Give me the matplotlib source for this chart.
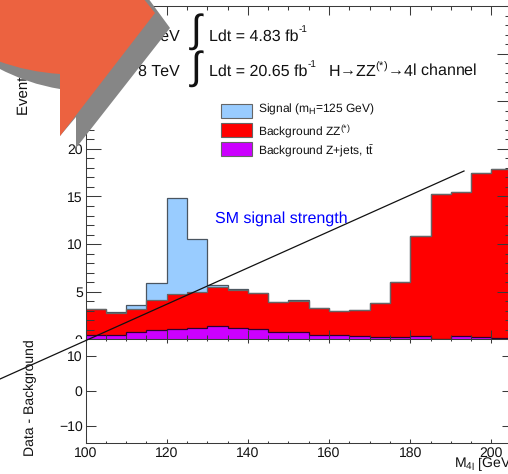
import numpy as np
import matplotlib
matplotlib.use("Agg")
import matplotlib.pyplot as plt
from matplotlib.patches import PathPatch, Rectangle
from matplotlib.path import Path
from matplotlib.lines import Line2D
from matplotlib.transforms import Affine2D, Bbox

plt.rcParams['font.family'] = ['Liberation Sans', 'DejaVu Sans']
plt.rcParams['mathtext.default'] = 'regular'
plt.rcParams['text.hinting'] = 'no_hinting'
plt.rcParams['text.hinting_factor'] = 1

bin_edges = list(range(100, 210, 5))
signal_total = [3.2, 2.9, 3.65, 5.9, 14.85, 10.5, 5.65, 5.3, 4.85, 3.9, 4.1, 3.26, 3.0, 3.1, 3.8, 6.0, 10.8, 15.25, 15.5, 17.5, 17.9]
zz_total = [3.15, 2.75, 3.15, 4.1, 4.8, 5.0, 5.5, 5.2, 4.85, 3.9, 4.07, 3.26, 3.0, 3.1, 3.8, 6.0, 10.8, 15.25, 15.5, 17.5, 17.9]
zjets = [0.42, 0.42, 0.74, 0.95, 1.05, 1.2, 1.37, 1.2, 1.05, 0.74, 0.8, 0.42, 0.4, 0.35, 0.2, 0.2, 0.3, 0.0, 0.3, 0.2, 0.1]
x_ticks = [100, 120, 140, 160, 180, 200]
upper_y_ticks = [0, 5, 10, 15, 20, 25, 30]
lower_y_ticks = [-10, 0, 10]
legend_labels = ["Signal (m$_{H}$=125 GeV)", "Background ZZ$^{(*)}$", r"Background Z+jets, t$\bar{t}$"]
legend_colors = ["#99ccff", "#ff0000", "#cc00ff"]

W, H = 508, 474
fig = plt.figure(figsize=(W / 100, H / 100), dpi=100, facecolor='white')
px = Affine2D().scale(1 / W, -1 / H).translate(0, 1) + fig.transFigure

def axes_px(left, top, right, bottom):
    return fig.add_axes([left / W, 1 - bottom / H, (right - left) / W, (bottom - top) / H])

L, R = 85.5, 511.7
ax = axes_px(L, 6, R, 339.3)
axl = axes_px(L, 339.3, R, 443)
ax.set_zorder(1)
axl.set_zorder(2)

edge = "#3a3a3a"
for vals, col, ec in [(signal_total, legend_colors[0], "#4a5560"),
                      (zz_total, legend_colors[1], "#666666"),
                      (zjets, legend_colors[2], "#300030")]:
    ax.stairs(vals, bin_edges, fill=True, color=col, baseline=0, zorder=1)
    ax.stairs(vals, bin_edges, fill=False, color=ec, lw=0.9, baseline=None, zorder=1.1)

for a in (ax, axl):
    a.set_xlim(100, 205)
    a.set_xticks(x_ticks)
    a.set_xticks(bin_edges, minor=True)
    for s in a.spines.values():
        s.set_linewidth(0.75)
        s.set_color(edge)

ax.set_ylim(0, 35)
ax.set_yticks(upper_y_ticks)
ax.set_yticks(np.arange(0, 36), minor=True)
ax.set_xticklabels([])
ax.tick_params(axis='x', which='major', direction='in', top=True, length=6.5, width=0.75, color=edge)
ax.tick_params(axis='x', which='minor', direction='in', top=True, length=3, width=0.75, color=edge)
ax.tick_params(axis='y', which='major', direction='in', right=True, length=11, width=0.75, color=edge,
               labelsize=10, pad=2, labelcolor='#111111')
ax.tick_params(axis='y', which='minor', direction='in', right=True, length=5.4, width=0.75, color=edge)

axl.set_ylim(-15, 14.8)
axl.set_yticks(lower_y_ticks)
axl.tick_params(axis='x', which='major', direction='in', top=True, length=3, width=0.75, color=edge,
                labelsize=10, pad=2.6, labelcolor='#111111')
axl.tick_params(axis='x', which='minor', direction='in', top=True, length=1.6, width=0.75, color=edge)
axl.tick_params(axis='y', which='major', direction='in', right=True, length=7, width=0.75, color=edge,
                labelsize=10, pad=2, labelcolor='#111111')

# The "0" of the upper panel is cut by the lower panel
for lab, v in zip(ax.get_yticklabels(), upper_y_ticks):
    if v == 0:
        lab.set_clip_box(Bbox([[0, H - 339.3], [W, H]]))
        lab.set_clip_on(True)

def T(x, y, s, **kw):
    kw.setdefault('fontsize', 11.2)
    kw.setdefault('va', 'baseline')
    kw.setdefault('color', '#111111')
    return fig.text(x, y, s, transform=px, **kw)

T(25, 115, "Events / 5 GeV", rotation=90, ha='center', va='bottom', fontsize=10.6)
T(30, 397.5, "Data - Background", rotation=90, ha='center', va='center', fontsize=10)
T(454, 468, "M$_{4l}$ [GeV]", fontsize=10, clip_on=False)

T(180, 40.7, "√s = 7 TeV", ha='right')
T(180, 76, "√s = 8 TeV", ha='right')
T(197, 32, r"$\int$", ha='center', va='center', fontsize=28, math_fontfamily='stix')
T(197, 68.5, r"$\int$", ha='center', va='center', fontsize=28, math_fontfamily='stix')
T(209, 40.7, "Ldt = 4.83 fb")
T(299, 32, "-1", fontsize=7.5)
T(209, 76, "Ldt = 20.65 fb")
T(308, 67, "-1", fontsize=7.5)
T(328, 76, "H→ZZ$^{(*)}$→4l channel", fontsize=11.5)

leg_tops = [103.5, 123, 142]
leg_baselines = [112.7, 135, 155]
for lab, col, top, base in zip(legend_labels, legend_colors, leg_tops, leg_baselines):
    fig.add_artist(Rectangle((220.5, top), 31, 14, transform=px, facecolor=col, edgecolor='#666666', lw=0.8, zorder=3))
    T(258, base, lab, fontsize=8.9)

T(215, 223, "SM signal strength", color='#0000ff', fontsize=11.4)

fig.add_artist(Line2D([0, 464], [379, 171], transform=px, color='#111111', lw=0.9, zorder=5))

# overlaid arrow graphic with its shadow
shadow_verts = [(-2, 68), (28, 84), (60, 89), (60, 136), (76, 117), (76, 148), (170, 28), (148, -2), (-2, -2), (-2, 68)]
shadow_codes = [Path.MOVETO, Path.CURVE3, Path.CURVE3, Path.LINETO, Path.LINETO, Path.LINETO, Path.LINETO,
                Path.LINETO, Path.LINETO, Path.CLOSEPOLY]
arrow_verts = [(-2, 61), (28, 72), (60, 74), (60, 136), (155, 13), (143, -2), (-2, -2), (-2, 61)]
arrow_codes = [Path.MOVETO, Path.CURVE3, Path.CURVE3, Path.LINETO, Path.LINETO, Path.LINETO, Path.LINETO,
               Path.CLOSEPOLY]
fig.add_artist(PathPatch(Path(shadow_verts, shadow_codes), transform=px, facecolor='#868686', edgecolor='none', zorder=10))
fig.add_artist(PathPatch(Path(arrow_verts, arrow_codes), transform=px, facecolor='#ec6240', edgecolor='none', zorder=11))

fig.savefig("out.png", dpi=100)
